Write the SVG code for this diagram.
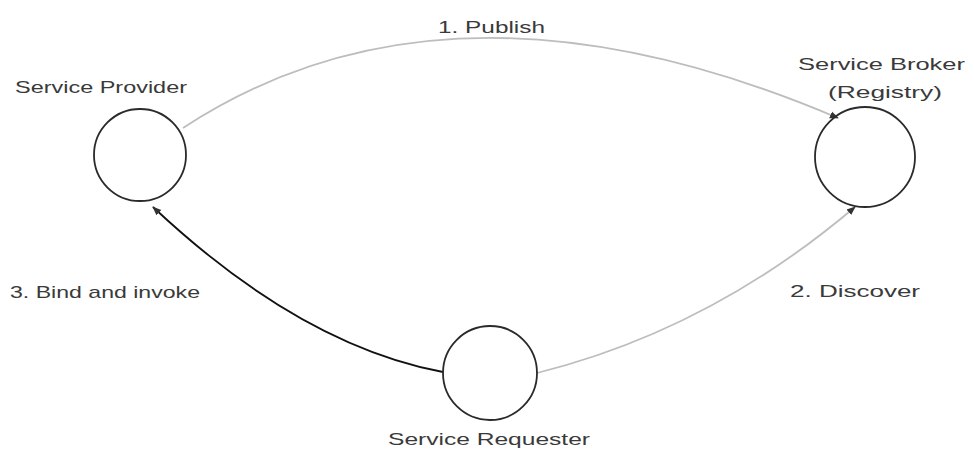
<svg xmlns="http://www.w3.org/2000/svg" width="974" height="450" viewBox="0 0 974 450">
<style>
.node circle{fill:none;stroke:#2a2a2a;stroke-width:1.8}
.lbl{font-family:"Liberation Sans",Arial,sans-serif;font-size:17px;fill:#3a3a3a}
.light{fill:none;stroke:#bdbdbd;stroke-width:1.8}
.dark{fill:none;stroke:#111;stroke-width:1.8}
</style>
<defs>
<marker id="ah" viewBox="0 0 10 10" refX="9" refY="5" markerWidth="9" markerHeight="9" orient="auto" markerUnits="userSpaceOnUse">
<path d="M0,1 L10,5 L0,9 z" fill="#333"/>
</marker>
</defs>
<rect width="974" height="450" fill="#fff"/>
<g id="connectors">
<path id="publish" class="light" d="M183,128 Q450,-47 838,118" marker-end="url(#ah)"/>
<path id="discover" class="light" d="M537,373 Q710,330 855,207" marker-end="url(#ah)"/>
<path id="bind" class="dark" d="M443,372 Q300,345 153,207" marker-end="url(#ah)"/>
<text class="lbl" x="438" y="33" textLength="107" lengthAdjust="spacingAndGlyphs">1. Publish</text>
<text class="lbl" x="790" y="297" textLength="130" lengthAdjust="spacingAndGlyphs">2. Discover</text>
<text class="lbl" x="10" y="298" textLength="190" lengthAdjust="spacingAndGlyphs">3. Bind and invoke</text>
</g>
<g id="provider" class="node">
<circle cx="140" cy="155" r="46"/>
<text class="lbl" x="15" y="93" textLength="172" lengthAdjust="spacingAndGlyphs">Service Provider</text>
</g>
<g id="broker" class="node">
<circle cx="865" cy="157" r="50"/>
<text class="lbl" x="798" y="70" textLength="167" lengthAdjust="spacingAndGlyphs">Service Broker</text>
<text class="lbl" x="828" y="98" textLength="114" lengthAdjust="spacingAndGlyphs">(Registry)</text>
</g>
<g id="requester" class="node">
<circle cx="490" cy="373" r="47"/>
<text class="lbl" x="388" y="445" textLength="202" lengthAdjust="spacingAndGlyphs">Service Requester</text>
</g>
</svg>
